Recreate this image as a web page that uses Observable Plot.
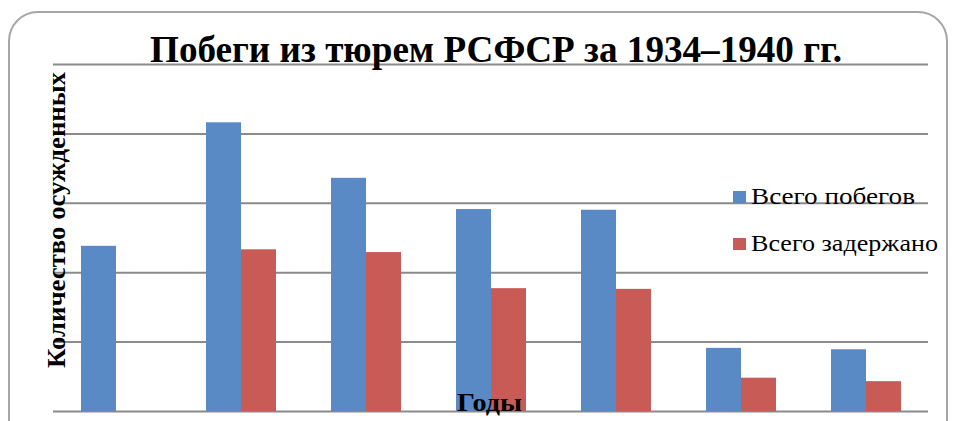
<!DOCTYPE html>
<html>
<head>
<meta charset="utf-8">
<script src="https://cdn.jsdelivr.net/npm/d3@7"></script>
<script src="https://cdn.jsdelivr.net/npm/@observablehq/plot@0.6"></script>
<style>
  html, body { margin: 0; padding: 0; background: #fff; }
  #wrap { position: relative; width: 958px; height: 421px; overflow: hidden; background: #fff; }
  #frame { position: absolute; left: 8px; top: 11px; width: 940px; height: 460px;
           border: 2px solid #a6a6a6; border-radius: 30px; box-sizing: border-box; }
  #chart { position: absolute; left: 0; top: 0; }
  #overlay { position: absolute; left: 0; top: 0; pointer-events: none; }
</style>
</head>
<body>
<div id="wrap">
  <div id="frame"></div>
  <div id="chart"></div>
  <svg id="overlay" width="958" height="421"></svg>
</div>
<script>
// ---- data (unlabelled axis, units = gridline steps) ----
const years = ["1934", "1935", "1936", "1937", "1938", "1939", "1940"];
const escapes = [2.38, 4.16, 3.36, 2.91, 2.90, 0.91, 0.89];   // Всего побегов
const detained = [null, 2.33, 2.29, 1.77, 1.76, 0.48, 0.43]; // Всего задержано
const seriesNames = ["Всего побегов", "Всего задержано"];
const seriesColors = ["#5a8ac6", "#c95b57"];
const gridTicks = [0, 1, 2, 3, 4, 5];
const title = "Побеги из тюрем РСФСР за 1934–1940 гг.";
const yLabel = "Количество осужденных";
const xLabel = "Годы";

const rows = [];
years.forEach((y, i) => {
  if (escapes[i] != null) rows.push({year: y, series: seriesNames[0], value: escapes[i]});
  if (detained[i] != null) rows.push({year: y, series: seriesNames[1], value: detained[i]});
});

const chart = Plot.plot({
  width: 958,
  height: 421,
  marginTop: 64,
  marginBottom: 10,
  marginLeft: 52,
  marginRight: 30,
  style: {background: "transparent"},
  fx: {domain: years, padding: 0, axis: null},
  x: {domain: seriesNames, paddingInner: 0, paddingOuter: 0.765, axis: null},
  y: {domain: [0, 5], axis: null},
  color: {domain: seriesNames, range: seriesColors},
  marks: [
    Plot.ruleY(gridTicks, {stroke: "#8a8a8a", strokeWidth: 2, strokeOpacity: 1}),
    Plot.barY(rows, {fx: "year", x: "series", y: "value", fill: "series", inset: 0})
  ]
});
document.getElementById("chart").appendChild(chart);

// ---- text overlay ----
const svg = d3.select("#overlay");
const serif = "'Liberation Serif', 'Times New Roman', serif";

svg.append("text")
  .attr("x", 150).attr("y", 62)
  .attr("textLength", 692).attr("lengthAdjust", "spacingAndGlyphs")
  .attr("font-family", serif).attr("font-weight", "bold").attr("font-size", 37)
  .attr("fill", "#000").text(title);

svg.append("text")
  .attr("transform", "translate(65,368) rotate(-90)")
  .attr("x", 0).attr("y", 0)
  .attr("textLength", 296).attr("lengthAdjust", "spacingAndGlyphs")
  .attr("font-family", serif).attr("font-weight", "bold").attr("font-size", 26)
  .attr("fill", "#000").text(yLabel);

svg.append("text")
  .attr("x", 457).attr("y", 411)
  .attr("textLength", 65).attr("lengthAdjust", "spacingAndGlyphs")
  .attr("font-family", serif).attr("font-weight", "bold").attr("font-size", 26)
  .attr("fill", "#000").text(xLabel);

// legend
const legendY = [191, 238];
const legendW = [164, 187];
seriesNames.forEach((name, i) => {
  svg.append("rect")
    .attr("x", 733).attr("y", legendY[i]).attr("width", 13).attr("height", 12)
    .attr("fill", seriesColors[i]);
  svg.append("text")
    .attr("x", 751).attr("y", legendY[i] + 13)
    .attr("textLength", legendW[i]).attr("lengthAdjust", "spacingAndGlyphs")
    .attr("font-family", serif).attr("font-size", 23)
    .attr("fill", "#000").text(name);
});
</script>
</body>
</html>
